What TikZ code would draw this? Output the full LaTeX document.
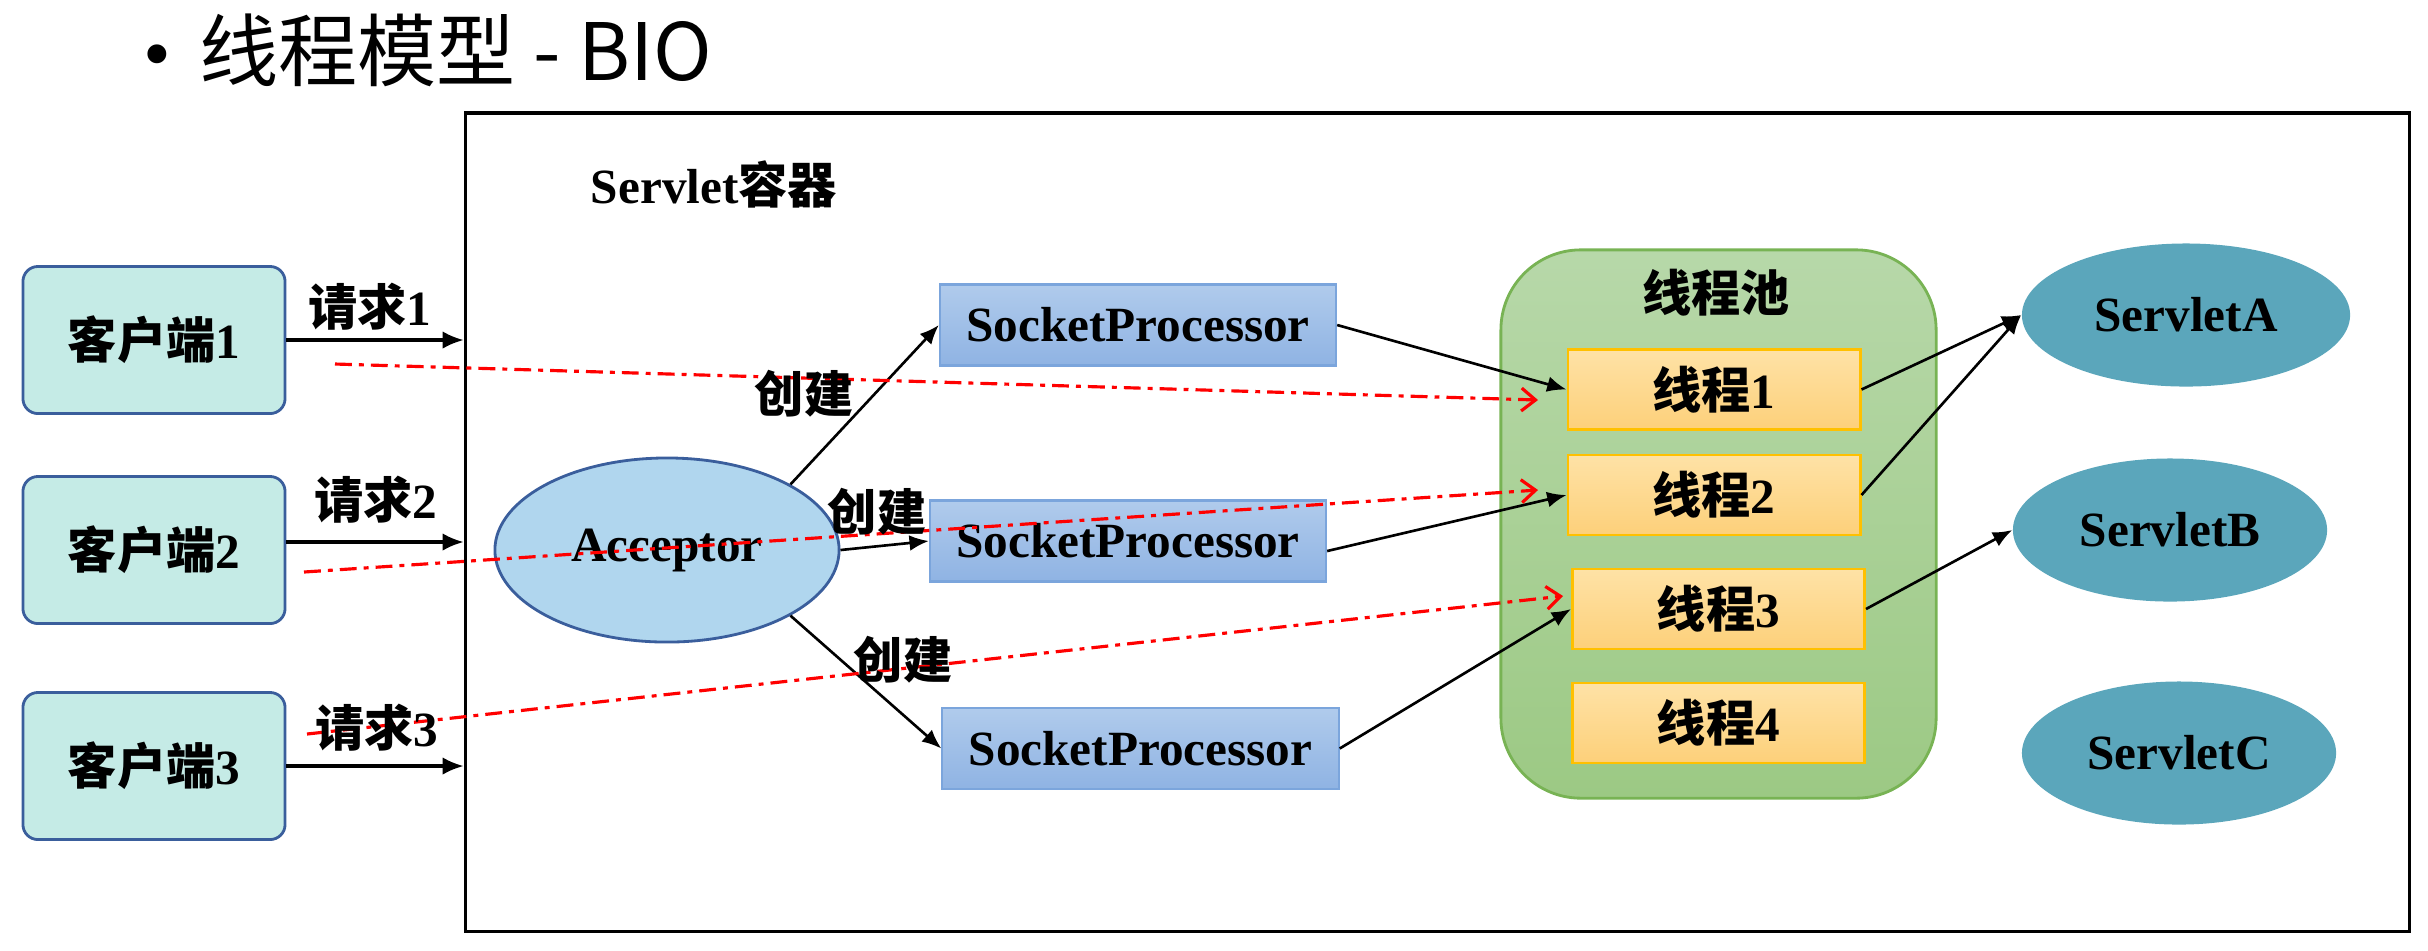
\documentclass[tikz,border=0pt]{standalone}
\usepackage{fontspec}
\setmainfont{Liberation Serif}
\newfontfamily\cjk{Noto Sans CJK SC}
\newcommand{\zh}[1]{{\cjk #1}}
\usetikzlibrary{arrows.meta,shapes.geometric}

\definecolor{clientfill}{HTML}{C5EBE6}
\definecolor{clientline}{HTML}{3A5E9C}
\definecolor{accfill}{HTML}{B0D6EE}
\definecolor{spline}{HTML}{7BA5DC}
\definecolor{sptop}{HTML}{B0CBEC}
\definecolor{spbottom}{HTML}{8FB3E3}
\definecolor{pooltop}{HTML}{B7D8A9}
\definecolor{poolbottom}{HTML}{9CC984}
\definecolor{poolline}{HTML}{78B354}
\definecolor{thtop}{HTML}{FEE2A6}
\definecolor{thbottom}{HTML}{FDD07A}
\definecolor{thline}{HTML}{FFC000}
\definecolor{servfill}{HTML}{5BA6BB}

\tikzset{
   lbl/.style={font=\bfseries\fontsize{14}{16}\selectfont},
   client/.style={lbl, draw=clientline, line width=0.8pt, fill=clientfill,
      rounded corners=0.15cm, minimum width=2.62cm, minimum height=1.47cm},
   acceptor/.style={lbl, ellipse, draw=clientline, line width=0.8pt, fill=accfill,
      minimum width=3.44cm, minimum height=1.84cm},
   sockproc/.style={lbl, draw=spline, line width=0.6pt, top color=sptop,
      bottom color=spbottom, minimum width=3.96cm, minimum height=0.81cm},
   worker/.style={lbl, draw=thline, line width=0.8pt, top color=thtop,
      bottom color=thbottom, minimum width=2.92cm, minimum height=0.8cm},
   servlet/.style={lbl, ellipse, fill=servfill, minimum height=1.43cm},
   flow/.style={line width=0.75pt, -{Latex[length=5.5pt,width=4.5pt]}},
   reqflow/.style={line width=0.9pt, -{Latex[length=6pt,width=5pt]}},
   dispatch/.style={red, line width=0.9pt,
      dash pattern=on 4.8pt off 2pt on 1.4pt off 2pt,
      -{Straight Barb[length=4pt,width=6.5pt]}}
}

\begin{document}
\begin{tikzpicture}[x=0.01cm, y=-0.01cm]
   \useasboundingbox (0,0) rectangle (2428,950);

   %% Titel
   \node[anchor=west, inner sep=0pt, font=\fontsize{22.5}{26}\selectfont] (title) at (143,50)
      {\textbullet\hspace{0.28cm}\zh{线程模型 - BIO}};

   %% Container
   \node[draw, line width=1pt, minimum width=19.43cm, minimum height=8.18cm] (box) at (1437.5,522) {};
   \node[lbl] (boxname) at (714,184) {Servlet\zh{容器}};

   %% Thread pool
   \node[draw=poolline, line width=0.8pt, top color=pooltop, bottom color=poolbottom,
      rounded corners=0.8cm, minimum width=4.35cm, minimum height=5.48cm] (pool) at (1718.5,524) {};
   \node[lbl] (poolname) at (1716,293) {\zh{线程池}};

   %% Clients
   \node[client] (client1) at (154,340) {\zh{客户端}1};
   \node[client] (client2) at (154,550) {\zh{客户端}2};
   \node[client] (client3) at (154,766) {\zh{客户端}3};

   %% Acceptor und SocketProcessor
   \node[acceptor] (acc) at (667,550) {Acceptor};
   \node[sockproc] (sp1) at (1138,325) {SocketProcessor};
   \node[sockproc] (sp2) at (1128,541) {SocketProcessor};
   \node[sockproc] (sp3) at (1140.5,748.5) {SocketProcessor};

   %% Threads
   \node[worker] (th1) at (1714,389.5) {\zh{线程}1};
   \node[worker] (th2) at (1714,495) {\zh{线程}2};
   \node[worker] (th3) at (1718.5,609) {\zh{线程}3};
   \node[worker] (th4) at (1718.5,723) {\zh{线程}4};

   %% Servlets
   \node[servlet, minimum width=3.28cm] (srvA) at (2186,315) {ServletA};
   \node[servlet, minimum width=3.14cm] (srvB) at (2170,530) {ServletB};
   \node[servlet, minimum width=3.14cm] (srvC) at (2179,753) {ServletC};

   %% Requests
   \draw[reqflow] (client1.east) -- (client1.east -| box.west);
   \draw[reqflow] ([yshift=0.08cm]client2.east) -- ([yshift=0.08cm]client2.east -| box.west);
   \draw[reqflow] (client3.east) -- (client3.east -| box.west);

   %% Pfeile
   \draw[flow] (acc.28) -- (sp1.west);
   \draw[flow] (acc.east) -- (sp2.west);
   \draw[flow] (acc.-28) -- (sp3.west);
   \draw[flow] (sp1.east) -- (th1.west);
   \draw[flow] ([yshift=-0.1cm]sp2.east) -- (th2.west);
   \draw[flow] (sp3.east) -- (th3.west);
   \draw[flow] (th1.east) -- (srvA.west);
   \draw[flow] (th2.east) -- (srvA.west);
   \draw[flow] (th3.east) -- (srvB.west);

   %% Zuordnung
   \coordinate (d1s) at (335,364);
   \coordinate (d1e) at (1538,400);
   \coordinate (d2s) at (304,572);
   \coordinate (d2e) at (1538,490);
   \coordinate (d3s) at (307,734);
   \coordinate (d3e) at (1563,596);
   \draw[dispatch] (d1s) -- (d1e);
   \draw[dispatch] (d2s) -- (d2e);
   \draw[dispatch] (d3s) -- (d3e);

   %% Beschriftung
   \node[lbl] (req1) at (370,307) {\zh{请求}1};
   \node[lbl] (req2) at (376,500) {\zh{请求}2};
   \node[lbl] (req3) at (377,728) {\zh{请求}3};
   \node[lbl] (mk1) at (804,394) {\zh{创建}};
   \node[lbl] (mk2) at (877,512) {\zh{创建}};
   \node[lbl] (mk3) at (903,660) {\zh{创建}};
\end{tikzpicture}
\end{document}
